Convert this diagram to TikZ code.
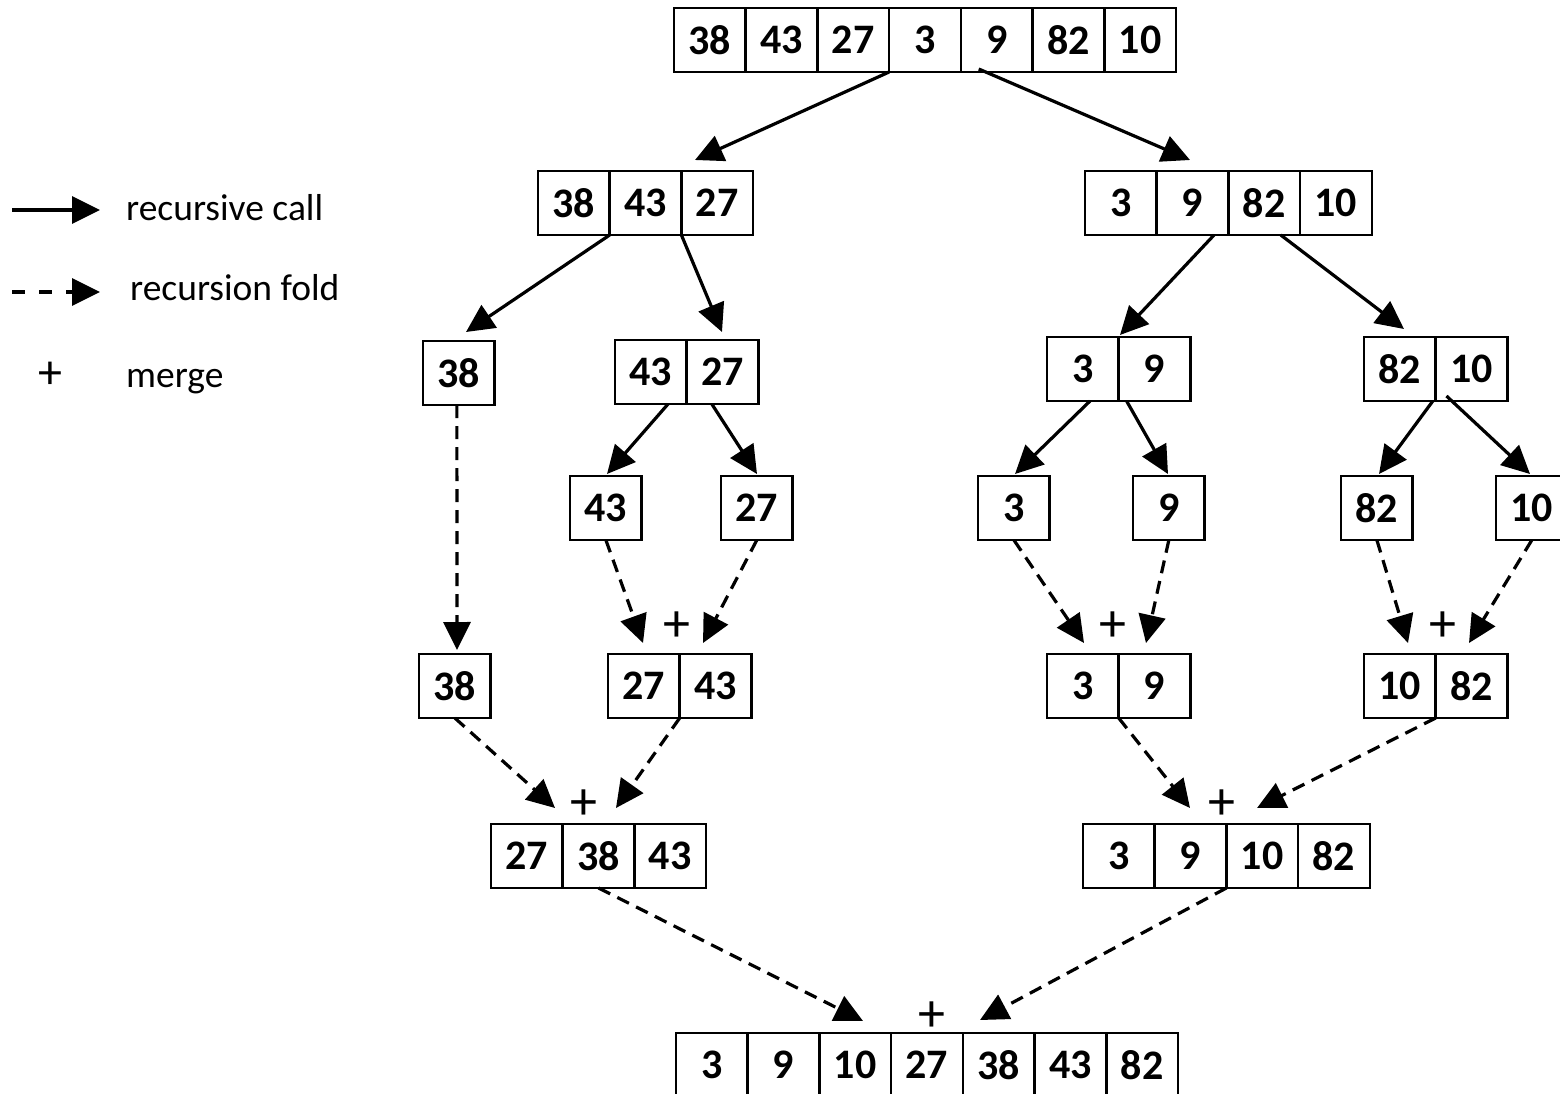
\documentclass[tikz,border=0pt]{standalone}
\usepackage{fontspec}
\setmainfont{Carlito}
\usetikzlibrary{arrows.meta,calc}

\tikzset{
  cell/.style={draw, line width=2.6pt, rectangle, outer sep=0pt,
    minimum width=71.7pt, minimum height=64pt, inner sep=0pt,
    anchor=north west, font=\fontsize{42}{44}\selectfont\bfseries},
  call/.style={line width=3.2pt, -{Triangle[length=28pt,width=27pt]}},
  fold/.style={call, dash pattern=on 13pt off 8pt},
  legendfold/.style={call, dash pattern=on 13pt off 14pt},
  mergesign/.style={inner sep=0pt, font=\fontsize{54}{56}\selectfont},
  legendtext/.style={inner sep=0pt, anchor=base west, font=\fontsize{37.5}{40}\selectfont},
}

% a row of adjacent cells: name, left x, top y, values
\newcommand{\cellrow}[4]{%
  \foreach \v [count=\i] in {#4} {
    \node[cell] (#1\i) at ({#2+(\i-1)*71.7}, #3) {\v};
  }%
}

\begin{document}
\begin{tikzpicture}[x=1pt, y=-1pt]
  \fill[white] (0,0) rectangle (1560,1094);
  \useasboundingbox (0,0) rectangle (1560,1094);
  \clip (0,0) rectangle (1560,1094);

  % legend
  \coordinate (lgA) at (12,210);  \coordinate (lgB) at (100,210);
  \coordinate (lgC) at (12,292);  \coordinate (lgD) at (100,292);
  \draw[call] (lgA) -- (lgB);
  \draw[legendfold] (lgC) -- (lgD);
  \node[legendtext] (lgcall) at (126,220) {recursive call};
  \node[legendtext] (lgfold) at (130,300) {recursion fold};
  \node[inner sep=0pt, font=\fontsize{48}{50}\selectfont] (lgplus) at (50,375) {+};
  \node[legendtext] (lgmerge) at (126,387) {merge};

  % arrays
  \cellrow{T}{674}{8}{38,43,27,3,9,82,10}
  \cellrow{A}{538}{171}{38,43,27}
  \cellrow{B}{1085}{171}{3,9,82,10}
  \cellrow{C}{423}{341}{38}
  \cellrow{D}{615}{340}{43,27}
  \cellrow{E}{1047}{337}{3,9}
  \cellrow{F}{1364}{337}{82,10}
  \cellrow{G}{570}{476}{43}
  \cellrow{H}{721}{476}{27}
  \cellrow{I}{978}{476}{3}
  \cellrow{J}{1133}{476}{9}
  \cellrow{K}{1341}{476}{82}
  \cellrow{L}{1496}{476}{10}
  \cellrow{M}{419}{654}{38}
  \cellrow{N}{608}{654}{27,43}
  \cellrow{O}{1047}{654}{3,9}
  \cellrow{P}{1364}{654}{10,82}
  \cellrow{Q}{491}{824}{27,38,43}
  \cellrow{R}{1083}{824}{3,9,10,82}
  \cellrow{S}{676}{1033}{3,9,10,27,38,43,82}

  % merge signs
  \node[mergesign] (mN) at (677,627) {+};
  \node[mergesign] (mO) at (1113,627) {+};
  \node[mergesign] (mP) at (1443,627) {+};
  \node[mergesign] (mQ) at (584,805) {+};
  \node[mergesign] (mR) at (1222,805) {+};
  \node[mergesign] (mS) at (932,1017) {+};

  % arrow tips
  \coordinate (tA) at (695,160);   \coordinate (tB) at (1190,160);
  \coordinate (tC) at (466,332);   \coordinate (tD) at (722,332);
  \coordinate (tE) at (1120,335);  \coordinate (tF) at (1404,329);
  \coordinate (tG) at (607,474);   \coordinate (tH) at (757,474);
  \coordinate (tI) at (1015,474);  \coordinate (tJ) at (1168,474);
  \coordinate (tK) at (1379,474);  \coordinate (tL) at (1530,474);
  \coordinate (tM) at (457,650);
  \coordinate (tN1) at (643,643);  \coordinate (tN2) at (703,643);
  \coordinate (tO1) at (1084,643); \coordinate (tO2) at (1146,643);
  \coordinate (tP1) at (1408,643); \coordinate (tP2) at (1469,643);
  \coordinate (tQ1) at (555,808);  \coordinate (tQ2) at (616,808);
  \coordinate (tR1) at (1190,808); \coordinate (tR2) at (1257,808);
  \coordinate (tS1) at (863,1021); \coordinate (tS2) at (980,1020);

  % recursive calls
  \draw[call] (T3.south east) -- (tA);
  \draw[call] ($(T5.south west)!0.25!(T5.south east)+(0,-3)$) -- (tB);
  \draw[call] (A1.south east) -- (tC);
  \draw[call] (A3.south west) -- (tD);
  \draw[call] ($(B2.south west)!0.8!(B2.south east)$) -- (tE);
  \draw[call] ($(B3.south west)!0.73!(B3.south east)$) -- (tF);
  \draw[call] ($(D1.south west)!0.74!(D1.south east)$) -- (tG);
  \draw[call] ($(D2.south west)!0.35!(D2.south east)$) -- (tH);
  \draw[call] ($(E1.south west)!0.6!(E1.south east)$) -- (tI);
  \draw[call] ($(E2.south west)!0.11!(E2.south east)$) -- (tJ);
  \draw[call] ($(F1.south west)!0.96!(F1.south east)$) -- (tK);
  \draw[call] ($(F2.south west)!0.15!(F2.south east)+(0,-5)$) -- (tL);

  % recursion folds
  \draw[fold] ($(C1.south)+(-2,0)$) -- (tM);
  \draw[fold] (G1.south) -- (tN1);
  \draw[fold] (H1.south) -- (tN2);
  \draw[fold] (I1.south) -- (tO1);
  \draw[fold] (J1.south) -- (tO2);
  \draw[fold] (K1.south) -- (tP1);
  \draw[fold] (L1.south) -- (tP2);
  \draw[fold] (M1.south) -- (tQ1);
  \draw[fold] (N1.south east) -- (tQ2);
  \draw[fold] (O1.south east) -- (tR1);
  \draw[fold] (P1.south east) -- (tR2);
  \draw[fold] (Q2.south) -- (tS1);
  \draw[fold] (R2.south east) -- (tS2);
\end{tikzpicture}
\end{document}
